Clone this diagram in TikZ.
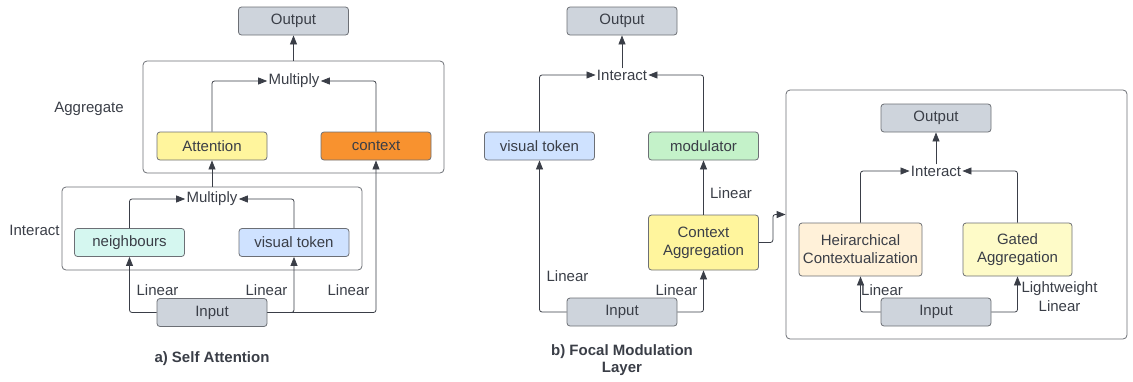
\documentclass[tikz,border=0pt]{standalone}
\usepackage{fontspec}
\setmainfont{Liberation Sans}
\usetikzlibrary{arrows.meta}

\definecolor{ink}{HTML}{3A3E47}
\definecolor{rim}{HTML}{6C6F75}
\definecolor{greybox}{HTML}{CED4DC}
\definecolor{yellowbox}{HTML}{FFF59D}
\definecolor{orangebox}{HTML}{F8922F}
\definecolor{mintbox}{HTML}{D5F7F0}
\definecolor{bluebox}{HTML}{CFE2FF}
\definecolor{greenbox}{HTML}{C4F2C9}
\definecolor{creambox}{HTML}{FFF1D9}
\definecolor{paleyellow}{HTML}{FEFBC8}

\tikzset{
  block/.style={draw=rim, line width=0.8pt, rounded corners=3pt, minimum width=110pt, minimum height=28pt, inner sep=2pt, align=center},
  frame/.style={draw=rim, line width=0.8pt, rounded corners=4pt},
  op/.style={inner sep=1pt},
  lbl/.style={inner sep=0pt, align=center}
}

\begin{document}
\begin{tikzpicture}[x=1pt, y=-1pt, font=\fontsize{15}{18}\selectfont, text=ink,
  >={Triangle[length=9pt, width=7pt]}, every path/.style={line width=0.8pt}]
\useasboundingbox (0,0) rectangle (1133,381);

\node (abox) [frame, minimum width=301pt, minimum height=112pt] at (293.5,117) {};
\node (ibox) [frame, minimum width=300pt, minimum height=83pt] at (212,228.5) {};
\node (rbox) [frame, minimum width=341pt, minimum height=249pt] at (956.5,214.5) {};

\node (out1) [block, fill=greybox] at (293.5,21) {Output};
\node (mul1) [op] at (294,81) {Multiply};
\node (att) [block, fill=yellowbox] at (212,146) {Attention};
\node (ctx) [block, fill=orangebox] at (376,146) {context};
\node (agg) [lbl] at (89,109) {Aggregate};

\node (mul2) [op] at (212,199) {Multiply};
\node (nb) [block, fill=mintbox] at (129.5,242.5) {neighbours};
\node (vt1) [block, fill=bluebox] at (294,242.5) {visual token};
\node (itc) [lbl] at (34.5,230) {Interact};
\node (in1) [block, fill=greybox] at (212,312.5) {Input};

\node (l1) [lbl] at (157.5,290) {Linear};
\node (l2) [lbl] at (266.5,290) {Linear};
\node (l3) [lbl] at (348.5,290) {Linear};
\node (capa) [font=\fontsize{15}{18}\selectfont\bfseries] at (212,359) {a) Self Attention};

\node (out2) [block, fill=greybox] at (622,21) {Output};
\node (int2) [op] at (622,75) {Interact};
\node (vt2) [block, fill=bluebox] at (539.5,146) {visual token};
\node (mod) [block, fill=greenbox] at (703.5,146) {modulator};
\node (ca) [block, fill=yellowbox, minimum height=55pt] at (703.5,242.5) {Context\\Aggregation};
\node (in2) [block, fill=greybox] at (622,312) {Input};

\node (l4) [lbl] at (567.5,276) {Linear};
\node (l5) [lbl] at (676.5,290) {Linear};
\node (l6) [lbl] at (731,193) {Linear};
\node (capb) [font=\fontsize{15}{17}\selectfont\bfseries, align=center] at (622,360.5) {b) Focal Modulation\\Layer};

\node (out3) [block, fill=greybox] at (936,118) {Output};
\node (int3) [op] at (936,171) {Interact};
\node (hc) [block, fill=creambox, minimum width=123pt, minimum height=53pt] at (860.5,249.5) {Heirarchical\\Contextualization};
\node (ga) [block, fill=paleyellow, minimum width=109pt, minimum height=53pt] at (1017.5,249.5) {Gated\\Aggregation};
\node (in3) [block, fill=greybox] at (936,312) {Input};

\node (l7) [lbl] at (882,290) {Linear};
\node (l8) [lbl, font=\fontsize{15}{19}\selectfont] at (1059.5,296.5) {Lightweight\\Linear};

\begin{scope}[draw=ink, rounded corners=2.5pt]
\draw [->] (abox) -- (out1);
\draw [->] (att) |- (mul1);
\draw [->] (ctx) |- (mul1);
\draw [->] (ibox.north -| att) -- (att);
\draw [->] (nb) |- (mul2);
\draw [->] (vt1) |- (mul2);
\draw [->] (in1) -| (nb);
\draw [->] (in1) -| (vt1);
\draw [->] (in1) -| (ctx);

\draw [->] (int2) -- (out2);
\draw [->] (vt2) |- (int2);
\draw [->] (mod) |- (int2);
\draw [->] (ca) -- (mod);
\draw [->] (in2) -| (vt2);
\draw [->] (in2) -| (ca);
\draw [->] (ca.east) -- ++(14,0) |- (rbox.west);

\draw [->] (int3) -- (out3);
\draw [->] (hc) |- (int3);
\draw [->] (ga) |- (int3);
\draw [->] (in3) -| (hc);
\draw [->] (in3) -| (ga);
\end{scope}
\end{tikzpicture}
\end{document}
